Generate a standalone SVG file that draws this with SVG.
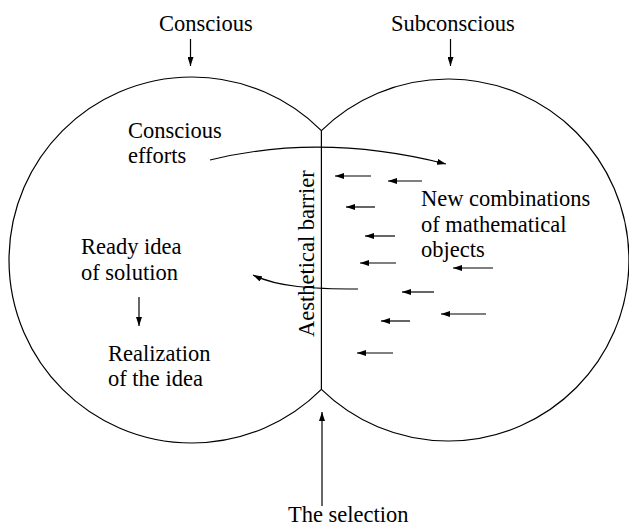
<svg xmlns="http://www.w3.org/2000/svg" width="629" height="528" viewBox="0 0 629 528">
  <style>
    text { font-family: 'Liberation Serif', 'Times New Roman', Times, 'DejaVu Serif', serif; font-size: 22.5px; fill: #000; }
    .ln { fill: none; stroke: #000; stroke-width: 1.2; }
    .ar { fill: none; stroke: #000; stroke-width: 1.2; marker-end: url(#ah); }
  </style>
  <defs>
    <marker id="ah" markerUnits="userSpaceOnUse" markerWidth="9" markerHeight="6" viewBox="0 0 9 6" refX="9" refY="3" orient="auto">
      <path d="M0,0 L9,3 L0,6 z" fill="#000"/>
    </marker>
  </defs>
  <rect width="629" height="528" fill="#fff"/>

  <g id="spheres">
    <path class="ln" d="M321.4,130.6 A183,183 0 1 0 321.4,389.4"/>
    <path class="ln" d="M321.4,130.6 A181,181 0 1 1 321.4,389.4"/>
    <line class="ln" x1="321.4" y1="130.6" x2="321.4" y2="389.4"/>
  </g>

  <g font-family="Liberation Serif, serif">
    <g id="label-conscious"><text x="159" y="31">Conscious</text></g>
    <g id="label-subconscious"><text x="391" y="31">Subconscious</text></g>
    <g id="node-conscious-efforts"><text x="128" y="138">Conscious</text><text x="128" y="163">efforts</text></g>
    <g id="node-new-combinations"><text x="421" y="206">New combinations</text><text x="421" y="232">of mathematical</text><text x="421" y="257">objects</text></g>
    <g id="node-ready-idea"><text x="81" y="254">Ready idea</text><text x="81" y="280">of solution</text></g>
    <g id="node-realization"><text x="108" y="361">Realization</text><text x="108" y="386">of the idea</text></g>
    <g id="label-barrier"><text transform="translate(314,337) rotate(-90)">Aesthetical barrier</text></g>
    <g id="label-selection"><text x="288" y="522">The selection</text></g>
  </g>

  <g id="connectors">
    <line class="ar" x1="190.5" y1="39" x2="190.5" y2="66"/>
    <line class="ar" x1="450.5" y1="39" x2="450.5" y2="66"/>
    <path class="ar" d="M210,160 Q322,132.5 446,164"/>
    <path class="ar" d="M358,289 C312,289 278,287 253,275"/>
    <line class="ar" x1="139" y1="297" x2="139" y2="326"/>
    <line class="ar" x1="322" y1="506" x2="322" y2="412"/>
    <line class="ar" x1="371" y1="176" x2="335" y2="176"/>
    <line class="ar" x1="422" y1="181" x2="388" y2="181"/>
    <line class="ar" x1="375" y1="207" x2="346" y2="207"/>
    <line class="ar" x1="395" y1="236" x2="365" y2="236"/>
    <line class="ar" x1="396" y1="263" x2="360" y2="263"/>
    <line class="ar" x1="493" y1="268" x2="453" y2="268"/>
    <line class="ar" x1="434" y1="292" x2="402" y2="292"/>
    <line class="ar" x1="486" y1="314" x2="441" y2="314"/>
    <line class="ar" x1="410" y1="321" x2="381" y2="321"/>
    <line class="ar" x1="393" y1="353" x2="357" y2="353"/>
  </g>
</svg>
